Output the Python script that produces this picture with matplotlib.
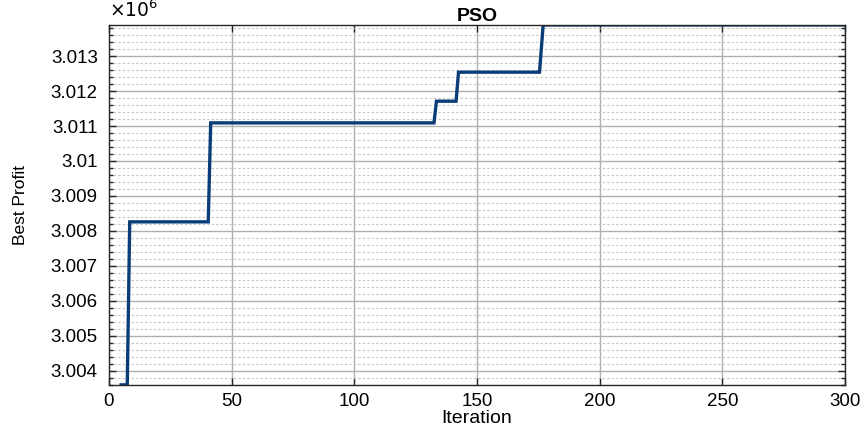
import numpy as np
import matplotlib.pyplot as plt
from matplotlib.ticker import MultipleLocator, FuncFormatter

plt.rcParams['font.family'] = ['Liberation Sans', 'DejaVu Sans']

# Best profit found by PSO at each change point (step-like convergence)
iterations = [5, 7.5, 8.5, 40.5, 41.5, 132.5, 133.5, 141.5, 142.5, 175.5, 177, 300]
best_profit = [3.0036e6, 3.0036e6, 3.00826e6, 3.00826e6, 3.01109e6, 3.01109e6,
               3.01171e6, 3.01171e6, 3.01254e6, 3.01254e6, 3.01389e6, 3.01389e6]

fig = plt.figure(figsize=(8.64, 4.30), dpi=100)
ax = fig.add_axes([0.126, 0.105, 0.852, 0.837])

ax.plot(iterations, best_profit, color="#0a3d78", linewidth=2.4,
        solid_joinstyle="miter", clip_on=True)

ax.set_xlim(0, 300)
ax.set_ylim(3.0036e6, 3.01389e6)
ax.xaxis.set_major_locator(MultipleLocator(50))
ax.yaxis.set_major_locator(MultipleLocator(1000))
ax.yaxis.set_minor_locator(MultipleLocator(200))
ax.yaxis.set_major_formatter(FuncFormatter(
    lambda v, _: f"{v / 1e6:.3f}".rstrip("0")))

ax.grid(which="major", color="#b0b0b0", linewidth=1.0)
ax.grid(which="minor", axis="y", color="#c4c4c4", linestyle=(0, (2, 2)), linewidth=0.8)
ax.set_axisbelow(True)

ax.tick_params(which="both", direction="in", top=True, right=True,
               labelsize=13.5, color="#262626", width=1.0)
ax.tick_params(which="major", length=5)
ax.tick_params(which="minor", length=3)
ax.tick_params(axis="x", pad=6)
ax.tick_params(axis="y", pad=8)
for s in ax.spines.values():
    s.set_color("#262626")
    s.set_linewidth(1.0)

ax.set_xlabel("Iteration", fontsize=14, labelpad=0)
ax.set_ylabel("Best Profit", fontsize=12.5, labelpad=16)
ax.set_title("PSO", fontsize=14, fontweight="bold", pad=3)
ax.text(0.0, 1.012, r"$\times10^{6}$", transform=ax.transAxes,
        fontsize=13.5, ha="left", va="bottom")

plt.savefig("out.png", dpi=100)
